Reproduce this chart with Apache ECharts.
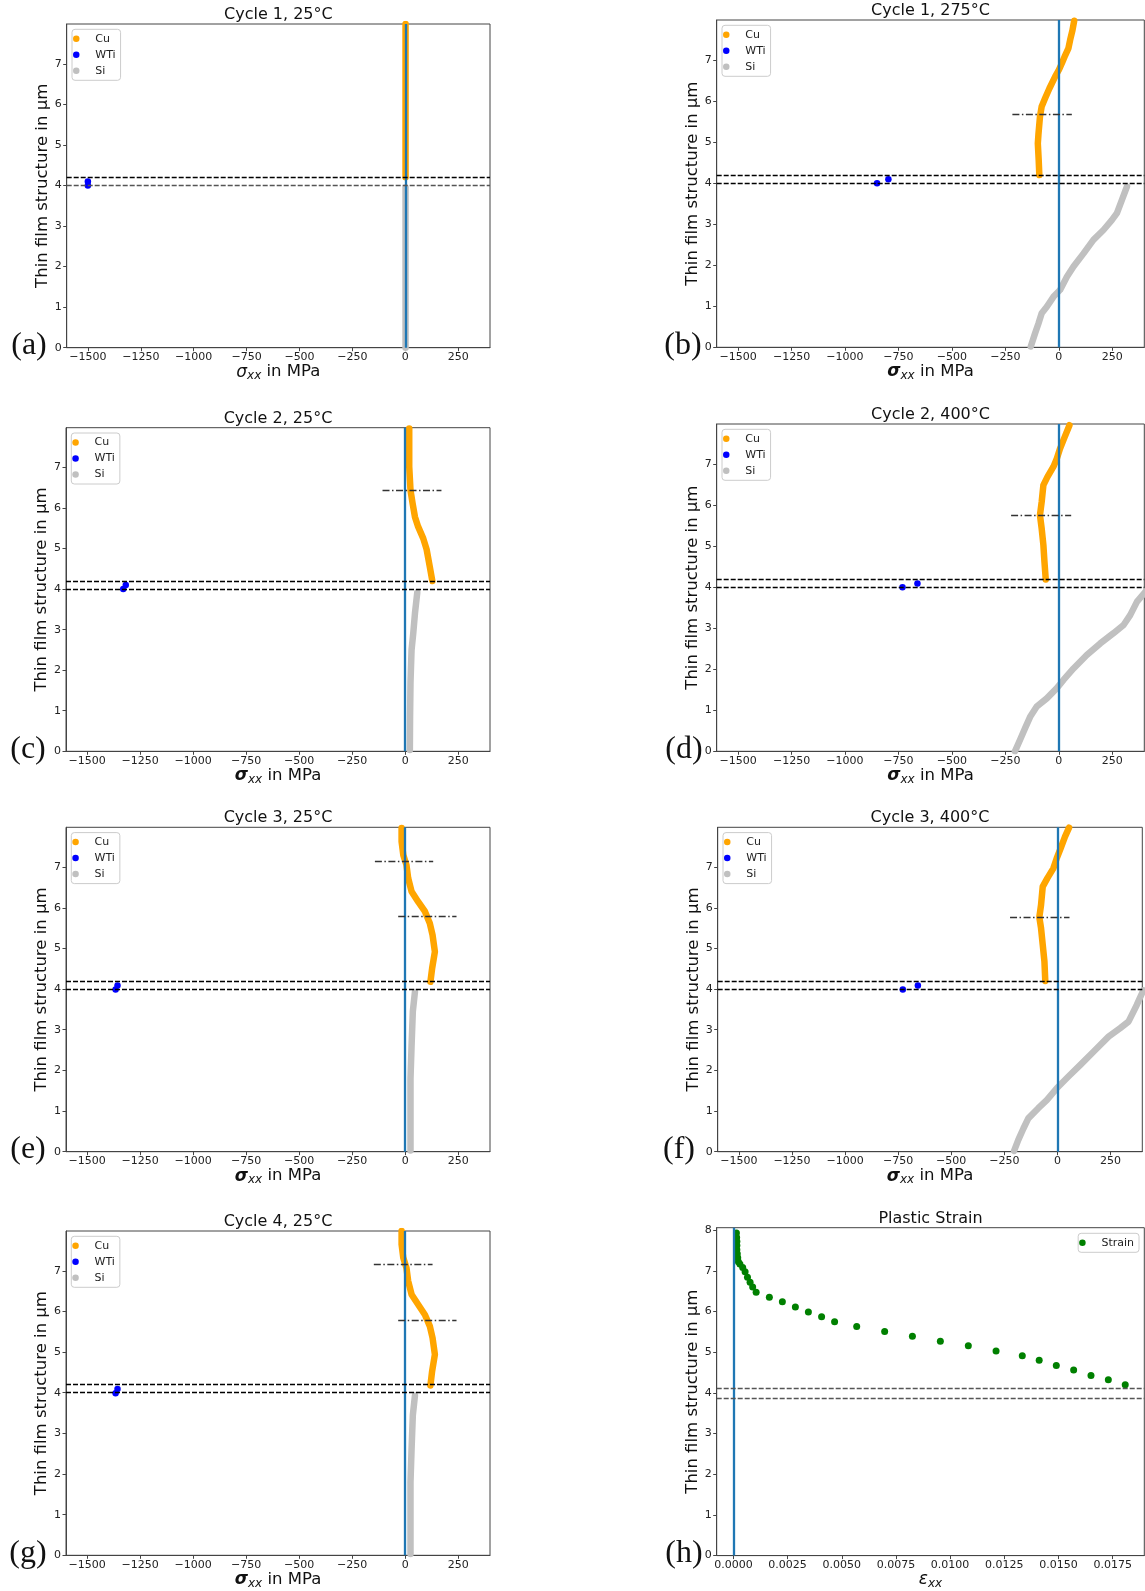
<!DOCTYPE html>
<html>
<head>
<meta charset="utf-8">
<title>Stress profiles</title>
<script src="https://cdn.jsdelivr.net/npm/echarts@6/dist/echarts.min.js"></script>
<style>
  html, body { margin: 0; padding: 0; background: #fff; }
  #chart { width: 1145px; height: 1591px; }
</style>
</head>
<body>
<div id="chart"></div>
<script>
// ticks
const stressTicks = [-1500, -1250, -1000, -750, -500, -250, 0, 250];
const depthTicks = [0, 1, 2, 3, 4, 5, 6, 7];
const strainTicks = [0, 0.0025, 0.005, 0.0075, 0.01, 0.0125, 0.015, 0.0175];
const strainDepthTicks = [0, 1, 2, 3, 4, 5, 6, 7, 8];

// layer interfaces (Cu/WTi, WTi/Si) in um
const interfaces = [4.2, 4.0];
const strainInterfaces = [4.11, 3.86];

// profiles as [sigma_xx in MPa, depth in um]
const cuA = [[1, 4.2], [1, 7.98]];
const siA = [[1, 0], [1, 3.95]];
const wtiA = [[-1500, 4.0], [-1500, 4.1]];

const cuB = [[-91, 4.2], [-94, 4.57], [-98, 4.97], [-95, 5.2], [-88, 5.62], [-80, 5.87], [-64, 6.07], [-44, 6.31], [-17, 6.6], [0, 6.76], [14, 6.92], [30, 7.12], [45, 7.29], [53, 7.49], [64, 7.73], [72, 7.96]];
const siB = [[319, 3.92], [295, 3.59], [272, 3.27], [248, 3.1], [209, 2.86], [162, 2.62], [116, 2.29], [69, 1.97], [38, 1.72], [6, 1.4], [-25, 1.23], [-56, 0.99], [-80, 0.83], [-95, 0.58], [-111, 0.34], [-131, 0.02]];
const wtiB = [[-850, 4.0], [-797, 4.1]];

const cuC = [[128, 4.2], [116, 4.55], [101, 4.98], [85, 5.25], [61, 5.54], [46, 5.78], [35, 6.11], [25, 6.44], [19, 7.02], [19, 7.96]];
const siC = [[57, 3.92], [46, 3.4], [38, 2.91], [30, 2.5], [25, 1.7], [23, 0.85], [22, 0.03]];
const wtiC = [[-1330, 4.0], [-1318, 4.1]];

const cuD = [[-61, 4.19], [-67, 4.62], [-72, 5.03], [-80, 5.43], [-88, 5.76], [-80, 6.08], [-72, 6.49], [-53, 6.69], [-25, 6.94], [-9, 7.14], [6, 7.38], [25, 7.63], [50, 7.95]];
const siD = [[415, 3.95], [366, 3.65], [334, 3.32], [303, 3.08], [256, 2.88], [194, 2.63], [131, 2.35], [69, 2.02], [22, 1.74], [-9, 1.54], [-56, 1.29], [-103, 1.09], [-134, 0.84], [-158, 0.56], [-181, 0.28], [-205, 0]];
const wtiD = [[-731, 4.0], [-661, 4.09]];

const cuE = [[119, 4.18], [127, 4.51], [140, 4.92], [129, 5.33], [116, 5.62], [93, 5.91], [61, 6.15], [30, 6.4], [14, 6.73], [6, 7.05], [-9, 7.3], [-17, 7.63], [-17, 7.96]];
const siE = [[46, 3.93], [36, 3.45], [30, 2.6], [25, 1.8], [25, 0.03]];
const wtiE = [[-1366, 3.99], [-1357, 4.09]];

const cuF = [[-57, 4.2], [-61, 4.68], [-69, 5.09], [-77, 5.5], [-85, 5.77], [-77, 6.07], [-69, 6.52], [-47, 6.73], [-19, 6.97], [-3, 7.22], [16, 7.47], [36, 7.75], [55, 7.97]];
const siF = [[405, 3.97], [374, 3.61], [335, 3.2], [296, 3.04], [241, 2.83], [170, 2.46], [107, 2.13], [52, 1.85], [-3, 1.56], [-50, 1.27], [-90, 1.07], [-137, 0.82], [-160, 0.57], [-184, 0.29], [-204, 0.02]];
const wtiF = [[-728, 3.99], [-657, 4.09]];

const cuG = [[119, 4.18], [127, 4.53], [140, 4.94], [129, 5.35], [116, 5.64], [93, 5.92], [61, 6.17], [30, 6.42], [14, 6.75], [6, 7.07], [-9, 7.32], [-17, 7.65], [-17, 7.98]];
const siG = [[46, 3.93], [36, 3.45], [30, 2.6], [25, 1.8], [25, 0.03]];
const wtiG = [[-1366, 3.99], [-1357, 4.09]];

// dash-dot markers [from sigma, to sigma, depth]
const marksB = [[-217, 61, 5.69]];
const marksC = [[-107, 171, 6.43]];
const marksD = [[-223, 58, 5.76]];
const marksE = [[-143, 132, 7.15], [-33, 242, 5.78]];
const marksF = [[-223, 57, 5.77]];
const marksG = [[-148, 129, 7.17], [-33, 242, 5.78]];

// plastic strain
const strainX = [0.00014, 0.00015, 0.00016, 0.00016, 0.00016, 0.00018, 0.0002, 0.00023, 0.0003, 0.00043, 0.00054, 0.00065, 0.00077, 0.00089, 0.00105, 0.00166, 0.00226, 0.00286, 0.00346, 0.00407, 0.00467, 0.00569, 0.00698, 0.00826, 0.00955, 0.01084, 0.01212, 0.01333, 0.01411, 0.0149, 0.0157, 0.0165, 0.0173, 0.01808];
const strainDepth = [7.93, 7.82, 7.72, 7.62, 7.52, 7.42, 7.32, 7.22, 7.17, 7.08, 6.98, 6.84, 6.72, 6.6, 6.475, 6.35, 6.24, 6.11, 5.99, 5.87, 5.75, 5.63, 5.51, 5.39, 5.27, 5.16, 5.03, 4.91, 4.8, 4.67, 4.56, 4.43, 4.32, 4.2];

const FONT = "DejaVu Sans";
const C_CU = "#ffa500";
const C_WTI = "#0000ff";
const C_SI = "#c0c0c0";
const C_ZERO = "#1f77b4";
const C_STRAIN = "#008000";
const SPINE = "#444";

const panels = [
  { title: "Cycle 1, 25°C", letter: "(a)", letterX: 29, box: [66.7, 24, 423.3, 323.7], cu: cuA, si: siA, wti: wtiA, marks: [], bold: false, lower: "#555" },
  { title: "Cycle 1, 275°C", letter: "(b)", letterX: 683, box: [716.7, 20, 427.6, 327.3], cu: cuB, si: siB, wti: wtiB, marks: marksB, bold: true },
  { title: "Cycle 2, 25°C", letter: "(c)", letterX: 28, box: [66, 427.7, 424, 323.6], cu: cuC, si: siC, wti: wtiC, marks: marksC, bold: true },
  { title: "Cycle 2, 400°C", letter: "(d)", letterX: 684, box: [716.7, 424, 427.6, 327.3], cu: cuD, si: siD, wti: wtiD, marks: marksD, bold: true },
  { title: "Cycle 3, 25°C", letter: "(e)", letterX: 28, box: [66, 827.3, 424, 324.4], cu: cuE, si: siE, wti: wtiE, marks: marksE, bold: true },
  { title: "Cycle 3, 400°C", letter: "(f)", letterX: 679, box: [717.7, 827.3, 424.6, 324.4], cu: cuF, si: siF, wti: wtiF, marks: marksF, bold: true },
  { title: "Cycle 4, 25°C", letter: "(g)", letterX: 28, box: [66, 1231, 424, 324.3], cu: cuG, si: siG, wti: wtiG, marks: marksG, bold: true },
];
const strainBox = [716.7, 1227.7, 427.6, 328];

const grids = [];
const xAxes = [];
const yAxes = [];
const legends = [];
const series = [];
const graphics = [];

const minus = (v) => String(v).replace("-", "\u2212");

function legendBox(extra) {
  return Object.assign({
    orient: "vertical",
    itemGap: 5,
    itemWidth: 28,
    itemHeight: 6.5,
    padding: [4, 5, 4, 1],
    borderColor: "#ccc",
    borderWidth: 1,
    borderRadius: 3,
    backgroundColor: "rgba(255,255,255,0.85)",
    selectedMode: false,
    textStyle: { fontFamily: FONT, fontSize: 11, color: "#222" },
  }, extra);
}

function frame(box, title, letter, letterX) {
  grids.push({
    left: box[0], top: box[1], width: box[2], height: box[3],
    show: true, borderColor: SPINE, borderWidth: 1, backgroundColor: "#fff",
  });
  graphics.push({
    type: "text", x: box[0] + box[2] / 2, y: box[1] - 9,
    style: { text: title, fontFamily: FONT, fontSize: 16, fill: "#111", align: "center", verticalAlign: "middle", textAlign: "center", textVerticalAlign: "middle" },
  });
  graphics.push({
    type: "text", x: letterX, y: box[1] + box[3] - 2,
    style: { text: letter, fontFamily: "Liberation Serif", fontSize: 32, fill: "#111", align: "center", verticalAlign: "middle", textAlign: "center", textVerticalAlign: "middle" },
  });
}

function yAxisFor(i, max, ticks) {
  return {
    type: "value", gridIndex: i, min: 0, max: max,
    name: "Thin film structure in μm", nameLocation: "middle", nameGap: 14,
    nameTextStyle: { fontFamily: FONT, fontSize: 16.5, color: "#111" },
    axisLine: { show: true, onZero: false, lineStyle: { color: SPINE } },
    axisTick: { show: true, length: 3.5, customValues: ticks, lineStyle: { color: SPINE } },
    axisLabel: { customValues: ticks, fontFamily: FONT, fontSize: 11, color: "#222", margin: 5 },
    splitLine: { show: false },
  };
}

const subStyle = { fontFamily: FONT, fontSize: 12, fontStyle: "italic", lineHeight: 9, verticalAlign: "bottom" };

panels.forEach((p, i) => {
  frame(p.box, p.title, p.letter, p.letterX);

  xAxes.push({
    type: "value", gridIndex: i, min: -1600, max: 400,
    name: "{s|σ}{sub|xx}{t| in MPa}", nameLocation: "middle", nameGap: 13,
    nameTextStyle: {
      color: "#111",
      rich: {
        s: { fontFamily: FONT, fontSize: 17, fontStyle: "italic", fontWeight: p.bold ? "bold" : "normal", lineHeight: 20, verticalAlign: "middle" },
        sub: subStyle,
        t: { fontFamily: FONT, fontSize: 16.5, lineHeight: 20, verticalAlign: "middle" },
      },
    },
    axisLine: { show: true, onZero: false, lineStyle: { color: SPINE } },
    axisTick: { show: true, length: 3.5, customValues: stressTicks, lineStyle: { color: SPINE } },
    axisLabel: { customValues: stressTicks, formatter: minus, fontFamily: FONT, fontSize: 11, color: "#222", margin: 4 },
    splitLine: { show: false },
  });
  yAxes.push(yAxisFor(i, 7.98, depthTicks));

  legends.push(legendBox({
    left: p.box[0] + 5.3, top: p.box[1] + 5.3,
    data: [{ name: "Cu", icon: "circle" }, { name: "WTi", icon: "circle" }, { name: "Si", icon: "circle" }],
  }));

  const dashed = { width: 1.3, type: [5, 2] };
  const lines = [
    { xAxis: 0, lineStyle: { color: C_ZERO, width: 2.3, type: "solid" } },
    { yAxis: interfaces[0], lineStyle: Object.assign({ color: "#000" }, dashed) },
    { yAxis: interfaces[1], lineStyle: Object.assign({ color: p.lower || "#000" }, dashed) },
  ];
  p.marks.forEach((m) => {
    lines.push([
      { coord: [m[0], m[2]], lineStyle: { color: "#333", width: 1.3, type: [7, 2.5, 1.5, 2.5] } },
      { coord: [m[1], m[2]] },
    ]);
  });

  series.push({
    type: "line", name: "Si", xAxisIndex: i, yAxisIndex: i, data: p.si,
    symbol: "none", silent: true, z: 2,
    itemStyle: { color: C_SI },
    lineStyle: { color: C_SI, width: 6.5, cap: "round", join: "round" },
  });
  series.push({
    type: "line", name: "Cu", xAxisIndex: i, yAxisIndex: i, data: p.cu,
    symbol: "none", silent: true, z: 3,
    itemStyle: { color: C_CU },
    lineStyle: { color: C_CU, width: 6.5, cap: "round", join: "round" },
    markLine: {
      silent: true, symbol: ["none", "none"], label: { show: false },
      emphasis: { disabled: true }, animation: false, data: lines,
    },
  });
  series.push({
    type: "scatter", name: "WTi", xAxisIndex: i, yAxisIndex: i, data: p.wti,
    symbolSize: 6.5, silent: true, z: 4, itemStyle: { color: C_WTI, opacity: 1 },
  });
});

// (h) plastic strain
const h = panels.length;
frame(strainBox, "Plastic Strain", "(h)", 684);
xAxes.push({
  type: "value", gridIndex: h, min: -0.00077, max: 0.01896,
  name: "{e|ε}{sub|xx}", nameLocation: "middle", nameGap: 13,
  nameTextStyle: {
    color: "#111",
    rich: {
      e: { fontFamily: FONT, fontSize: 17, fontStyle: "italic", lineHeight: 20, verticalAlign: "middle" },
      sub: subStyle,
    },
  },
  axisLine: { show: true, onZero: false, lineStyle: { color: SPINE } },
  axisTick: { show: true, length: 3.5, customValues: strainTicks, lineStyle: { color: SPINE } },
  axisLabel: { customValues: strainTicks, formatter: (v) => v.toFixed(4), fontFamily: FONT, fontSize: 11, color: "#222", margin: 4 },
  splitLine: { show: false },
});
yAxes.push(yAxisFor(h, 8.06, strainDepthTicks));
legends.push(legendBox({
  right: 6, top: strainBox[1] + 5.6,
  data: [{ name: "Strain", icon: "circle" }],
}));
series.push({
  type: "scatter", name: "Strain", xAxisIndex: h, yAxisIndex: h,
  data: strainX.map((x, k) => [x, strainDepth[k]]),
  symbolSize: 7, silent: true, itemStyle: { color: C_STRAIN, opacity: 1 },
  markLine: {
    silent: true, symbol: ["none", "none"], label: { show: false },
    emphasis: { disabled: true }, animation: false,
    data: [
      { xAxis: 0, lineStyle: { color: C_ZERO, width: 2.3, type: "solid" } },
      { yAxis: strainInterfaces[0], lineStyle: { color: "#555", width: 1.3, type: [5, 2] } },
      { yAxis: strainInterfaces[1], lineStyle: { color: "#555", width: 1.3, type: [5, 2] } },
    ],
  },
});

const chart = echarts.init(document.getElementById("chart"), null, { renderer: "canvas" });
chart.setOption({
  animation: false,
  backgroundColor: "#fff",
  textStyle: { fontFamily: FONT },
  grid: grids,
  xAxis: xAxes,
  yAxis: yAxes,
  legend: legends,
  series: series,
  graphic: graphics,
});
</script>
</body>
</html>
